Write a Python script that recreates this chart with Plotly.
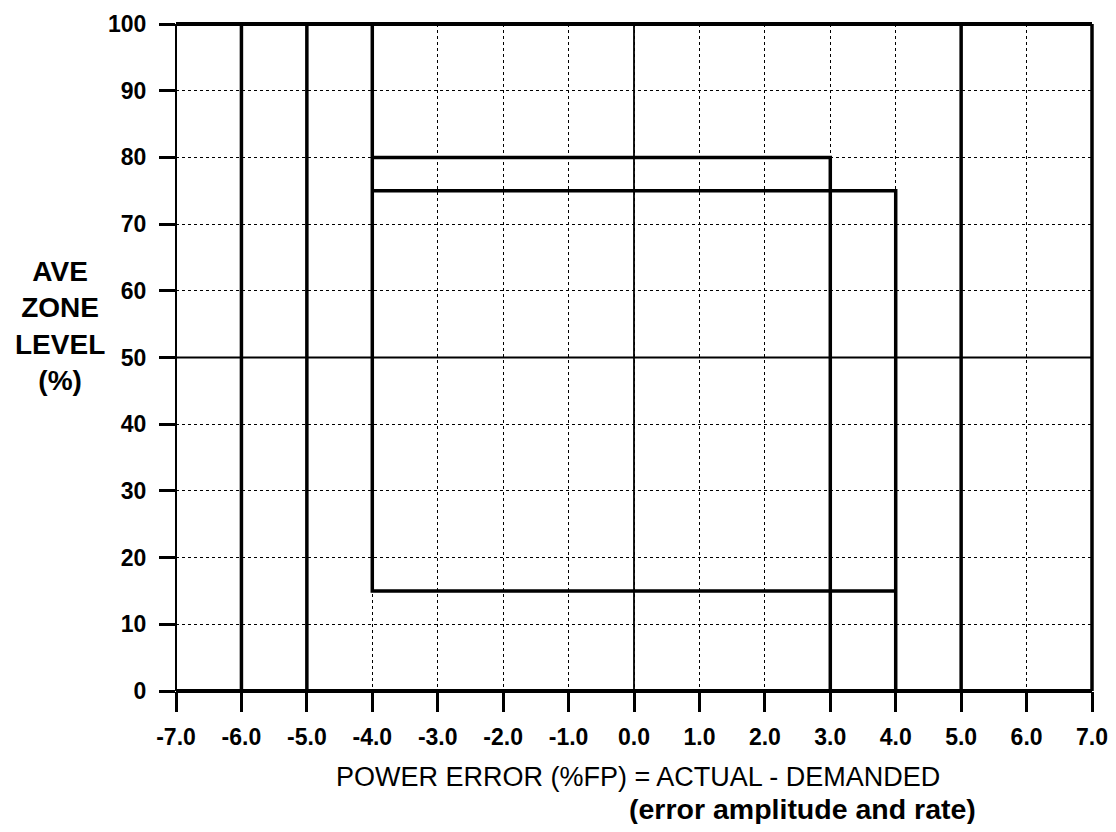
import plotly.graph_objects as go

# Data
x_ticks = [-7, -6, -5, -4, -3, -2, -1, 0, 1, 2, 3, 4, 5, 6, 7]
x_tick_labels = ["-7.0", "-6.0", "-5.0", "-4.0", "-3.0", "-2.0", "-1.0", "0.0",
                 "1.0", "2.0", "3.0", "4.0", "5.0", "6.0", "7.0"]
y_ticks = [0, 10, 20, 30, 40, 50, 60, 70, 80, 90, 100]
y_tick_labels = ["0", "10", "20", "30", "40", "50", "60", "70", "80", "90", "100"]

# full-height vertical limits
full_verticals = [-6, -5, 5]
# zone boundaries
zone_a_x = [-4, -4, 4]
zone_a_y = [100, 15, 15]
zone_b_x = [4, 4, -4]
zone_b_y = [0, 75, 75]
zone_c_x = [-4, 3, 3]
zone_c_y = [80, 80, 0]
center_x = 0
center_y = 50

# page offset (body margin 8px) compensation
L, R, T, B = 176, 1092, 24, 691
OFF = 8
W, H = 1116 - 2 * OFF, 832 - 2 * OFF

fig = go.Figure()

vx, vy = [], []
for v in full_verticals:
    vx += [v, v, None]
    vy += [0, 100, None]
fig.add_trace(go.Scatter(x=vx, y=vy, mode="lines",
                         line=dict(color="black", width=3.5), hoverinfo="skip"))
for zx, zy in [(zone_a_x, zone_a_y), (zone_b_x, zone_b_y), (zone_c_x, zone_c_y)]:
    fig.add_trace(go.Scatter(x=zx, y=zy, mode="lines",
                             line=dict(color="black", width=3.5), hoverinfo="skip"))
fig.add_trace(go.Scatter(x=[center_x, center_x], y=[0, 100], mode="lines",
                         line=dict(color="black", width=1.8), hoverinfo="skip"))
fig.add_trace(go.Scatter(x=[-7, 7], y=[center_y, center_y], mode="lines",
                         line=dict(color="black", width=1.8), hoverinfo="skip"))

# borders
fig.add_shape(type="line", xref="x domain", yref="y domain", x0=0, x1=1, y0=1, y1=1,
              line=dict(color="black", width=4))
fig.add_shape(type="line", xref="x domain", yref="y domain", x0=0, x1=1, y0=0, y1=0,
              line=dict(color="black", width=4))
fig.add_shape(type="line", xref="x domain", yref="y domain", x0=0, x1=0, y0=0, y1=1,
              line=dict(color="black", width=2))
fig.add_shape(type="line", xref="x domain", yref="y domain", x0=1, x1=1, y0=0, y1=1,
              line=dict(color="black", width=3.5))

tickfont = dict(family="Liberation Sans, Arial", size=23, color="black", weight="bold")

fig.update_xaxes(range=[-7, 7], tickvals=x_ticks, ticktext=x_tick_labels,
                 showgrid=True, gridcolor="black", gridwidth=1.3, griddash="dot",
                 ticks="outside", ticklen=20, tickwidth=2.5, tickcolor="black",
                 tickfont=tickfont, zeroline=False, showline=False, ticklabelstandoff=5,
                 automargin=False)
fig.update_yaxes(range=[0, 100], tickvals=y_ticks, ticktext=y_tick_labels,
                 showgrid=True, gridcolor="black", gridwidth=1.3, griddash="dot",
                 ticks="outside", ticklen=16, tickwidth=3, tickcolor="black",
                 tickfont=tickfont, zeroline=False, showline=False, ticklabelstandoff=8,
                 automargin=False)

def px_x(p):
    return (p - L) / (R - L)

def px_y(p):
    return (B - p) / (B - T)

fig.add_annotation(text="POWER ERROR (%FP) = ACTUAL - DEMANDED", xref="paper", yref="paper",
                   x=px_x(638), y=px_y(777),
                   showarrow=False, xanchor="center", yanchor="middle",
                   font=dict(family="Liberation Sans, Arial", size=27, color="black"))
fig.add_annotation(text="(error amplitude and rate)", xref="paper", yref="paper",
                   x=px_x(627), y=px_y(809),
                   showarrow=False, xanchor="left", yanchor="middle",
                   font=dict(family="Liberation Sans, Arial", size=28.5, color="black", weight="bold"))
fig.add_annotation(text="AVE<br>ZONE<br>LEVEL<br>(%)", xref="paper", yref="paper",
                   x=px_x(60), y=px_y(326),
                   showarrow=False, xanchor="center", yanchor="middle", align="center",
                   font=dict(family="Liberation Sans, Arial", size=28, color="black", weight="bold"))

fig.update_layout(width=W, height=H, plot_bgcolor="white", paper_bgcolor="white",
                  showlegend=False,
                  margin=dict(l=L - OFF, r=W + OFF - R, t=T - OFF, b=H + OFF - B,
                              autoexpand=False))

fig.write_html("out.html")
